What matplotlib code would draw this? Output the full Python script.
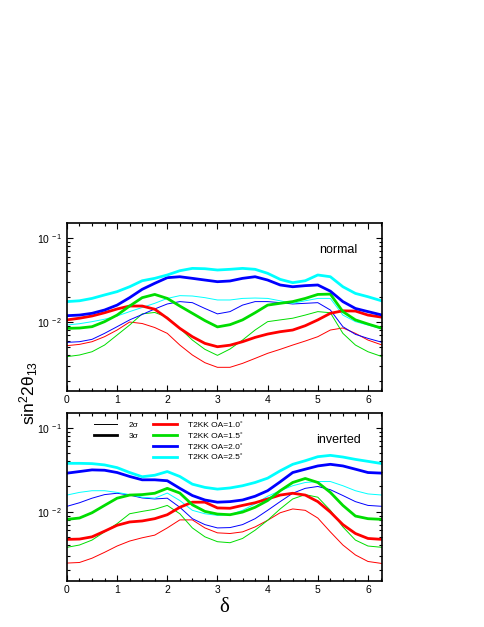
import numpy as np
import matplotlib
matplotlib.use("Agg")
import matplotlib.pyplot as plt
from matplotlib.lines import Line2D
from matplotlib.ticker import MultipleLocator, FixedLocator, FixedFormatter, LogLocator, NullFormatter

plt.rcParams['font.family'] = ['Liberation Sans', 'DejaVu Sans']

# CP phase grid (rad)
delta = np.append(np.arange(0, 6.01, 0.25), 2 * np.pi)

# sensitivity limits on sin^2(2theta13), in units of 1e-2
# normal hierarchy, 3 sigma (thick) and 2 sigma (thin)
nh_oa10_3s = [1.06, 1.11, 1.18, 1.29, 1.43, 1.55, 1.55, 1.42, 1.11, 0.841, 0.669, 0.557, 0.508,
              0.53, 0.583, 0.656, 0.719, 0.767, 0.803, 0.904, 1.06, 1.27, 1.36, 1.35, 1.21, 1.14]
nh_oa15_3s = [0.841, 0.848, 0.880, 1.01, 1.21, 1.55, 1.95, 2.13, 1.91, 1.55, 1.27, 1.04, 0.875,
              0.93, 1.06, 1.29, 1.59, 1.67, 1.75, 1.91, 2.13, 2.15, 1.33, 1.06, 0.947, 0.841]
nh_oa20_3s = [1.19, 1.21, 1.27, 1.39, 1.59, 1.95, 2.45, 2.89, 3.37, 3.46, 3.31, 3.16, 3.02,
              3.08, 3.31, 3.46, 3.16, 2.76, 2.63, 2.71, 2.76, 2.33, 1.75, 1.45, 1.33, 1.21]
nh_oa25_3s = [1.75, 1.79, 1.91, 2.10, 2.30, 2.63, 3.10, 3.31, 3.63, 4.08, 4.35, 4.31, 4.16,
              4.24, 4.35, 4.24, 3.80, 3.22, 2.94, 3.10, 3.63, 3.46, 2.63, 2.19, 2.00, 1.78]
nh_oa10_2s = [0.523, 0.542, 0.583, 0.669, 0.803, 1.00, 0.96, 0.86, 0.733, 0.532, 0.405, 0.328, 0.289,
              0.289, 0.322, 0.369, 0.424, 0.473, 0.532, 0.594, 0.669, 0.803, 0.85, 0.733, 0.610, 0.532]
nh_oa15_2s = [0.387, 0.405, 0.443, 0.532, 0.700, 0.921, 1.25, 1.30, 1.14, 0.841, 0.610, 0.473, 0.401,
              0.477, 0.610, 0.803, 1.01, 1.06, 1.11, 1.21, 1.33, 1.29, 0.733, 0.532, 0.443, 0.387]
nh_oa20_2s = [0.573, 0.583, 0.622, 0.733, 0.880, 1.06, 1.23, 1.43, 1.64, 1.75, 1.70, 1.45, 1.25,
              1.33, 1.59, 1.75, 1.75, 1.70, 1.64, 1.67, 1.70, 1.39, 0.880, 0.713, 0.639, 0.573]
nh_oa25_2s = [0.921, 0.955, 1.01, 1.08, 1.18, 1.33, 1.49, 1.67, 1.91, 2.06, 2.04, 1.95, 1.83,
              1.83, 1.91, 1.93, 1.91, 1.79, 1.67, 1.79, 1.91, 1.91, 1.21, 1.01, 0.921, 0.825]

# inverted hierarchy
ih_oa10_3s = [0.469, 0.473, 0.503, 0.587, 0.690, 0.756, 0.777, 0.827, 0.922, 1.13, 1.30, 1.30, 1.11,
              1.10, 1.19, 1.28, 1.42, 1.58, 1.66, 1.58, 1.32, 0.991, 0.703, 0.551, 0.481, 0.469]
ih_oa15_3s = [0.812, 0.842, 0.973, 1.19, 1.45, 1.58, 1.60, 1.66, 1.90, 1.67, 1.21, 1.01, 0.939,
              0.922, 0.991, 1.13, 1.36, 1.78, 2.23, 2.49, 2.23, 1.70, 1.19, 0.889, 0.827, 0.812]
ih_oa20_3s = [2.88, 3.01, 3.15, 3.12, 2.93, 2.63, 2.40, 2.40, 2.34, 1.90, 1.56, 1.38, 1.30,
              1.32, 1.38, 1.53, 1.78, 2.27, 2.93, 3.21, 3.51, 3.67, 3.51, 3.21, 2.93, 2.88]
ih_oa25_3s = [3.77, 3.77, 3.74, 3.61, 3.35, 2.93, 2.61, 2.72, 3.01, 2.63, 2.13, 1.95, 1.86,
              1.92, 2.04, 2.23, 2.51, 3.07, 3.67, 4.05, 4.52, 4.69, 4.48, 4.20, 3.98, 3.74]
ih_oa10_2s = [0.245, 0.249, 0.280, 0.329, 0.391, 0.448, 0.490, 0.527, 0.642, 0.80, 0.80, 0.642, 0.561,
              0.551, 0.576, 0.660, 0.791, 0.973, 1.08, 1.04, 0.842, 0.576, 0.402, 0.306, 0.256, 0.242]
ih_oa15_2s = [0.377, 0.402, 0.460, 0.576, 0.722, 0.947, 1.01, 1.07, 1.19, 0.947, 0.642, 0.503, 0.440,
              0.428, 0.481, 0.603, 0.791, 1.08, 1.42, 1.60, 1.49, 1.04, 0.660, 0.460, 0.391, 0.377]
ih_oa20_2s = [1.16, 1.28, 1.45, 1.60, 1.66, 1.58, 1.46, 1.42, 1.45, 1.13, 0.827, 0.703, 0.642,
              0.648, 0.703, 0.827, 1.04, 1.32, 1.66, 1.90, 2.00, 1.83, 1.56, 1.32, 1.19, 1.16]
ih_oa25_2s = [1.58, 1.70, 1.78, 1.78, 1.70, 1.60, 1.49, 1.45, 1.67, 1.36, 1.04, 0.947, 0.906,
              0.922, 1.04, 1.24, 1.53, 1.78, 2.04, 2.23, 2.29, 2.29, 2.04, 1.78, 1.63, 1.58]

oa_labels = ["T2KK OA=1.0\u02da", "T2KK OA=1.5\u02da", "T2KK OA=2.0\u02da", "T2KK OA=2.5\u02da"]
colors = ["#ff0000", "#00dd00", "#0000ff", "#00ffff"]

panels = [
    ("normal", [nh_oa10_2s, nh_oa15_2s, nh_oa20_2s, nh_oa25_2s],
     [nh_oa10_3s, nh_oa15_3s, nh_oa20_3s, nh_oa25_3s]),
    ("inverted", [ih_oa10_2s, ih_oa15_2s, ih_oa20_2s, ih_oa25_2s],
     [ih_oa10_3s, ih_oa15_3s, ih_oa20_3s, ih_oa25_3s]),
]

fig = plt.figure(figsize=(4.85, 6.27), dpi=100)
ax_top = fig.add_axes([0.138, 0.376, 0.650, 0.268])
ax_bot = fig.add_axes([0.138, 0.0734, 0.650, 0.268])

thick_lines = []
for ax, (name, thin_set, thick_set) in zip([ax_top, ax_bot], panels):
    for vals, c in zip(thin_set, colors):
        ax.plot(delta, np.array(vals) * 1e-2, color=c, lw=0.7)
    lines = []
    for vals, c, lab in zip(thick_set, colors, oa_labels):
        ln, = ax.plot(delta, np.array(vals) * 1e-2, color=c, lw=2.0, label=lab)
        lines.append(ln)
    thick_lines.append(lines)

    ax.set_yscale("log")
    ax.set_xlim(0, 2 * np.pi)
    ax.set_ylim(0.0015, 0.15)
    ax.xaxis.set_major_locator(MultipleLocator(1))
    ax.xaxis.set_minor_locator(MultipleLocator(0.25))
    ax.yaxis.set_major_locator(FixedLocator([1e-2, 1e-1]))
    ax.yaxis.set_major_formatter(FixedFormatter([r"$\mathregular{10^{\,-2}}$",
                                                 r"$\mathregular{10^{\,-1}}$"]))
    ax.yaxis.set_minor_locator(LogLocator(base=10, subs=np.arange(2, 10)))
    ax.yaxis.set_minor_formatter(NullFormatter())
    ax.tick_params(which="both", direction="in", top=True, right=True, labelsize=7.5, width=0.8)
    ax.tick_params(which="major", length=4.5, pad=3)
    ax.tick_params(which="minor", length=2.3)
    for sp in ax.spines.values():
        sp.set_linewidth(1.2)
    ax.text(0.86, 0.84, name, transform=ax.transAxes, ha="center", va="center", fontsize=9)

h2 = Line2D([], [], color="black", lw=0.7, label="2\u03c3")
h3 = Line2D([], [], color="black", lw=2.0, label="3\u03c3")
blank = Line2D([], [], color="none", label=" ")
ax_bot.legend(handles=[h2, h3, blank, blank] + thick_lines[1], ncol=2, loc="upper left",
              bbox_to_anchor=(0.085, 0.95), frameon=False, fontsize=6, handlelength=2.8,
              handletextpad=1.4, columnspacing=1.8, labelspacing=0.35, borderpad=0, borderaxespad=0)

ax_bot.set_xlabel("\u03b4", fontsize=15, family=["Liberation Serif", "DejaVu Serif"], labelpad=2)
fig.text(0.060, 0.374, r"$\mathregular{sin^22\theta_{13}}$", rotation=90, ha="center", va="center",
         fontsize=12.5)

fig.savefig("out.png", dpi=100)
